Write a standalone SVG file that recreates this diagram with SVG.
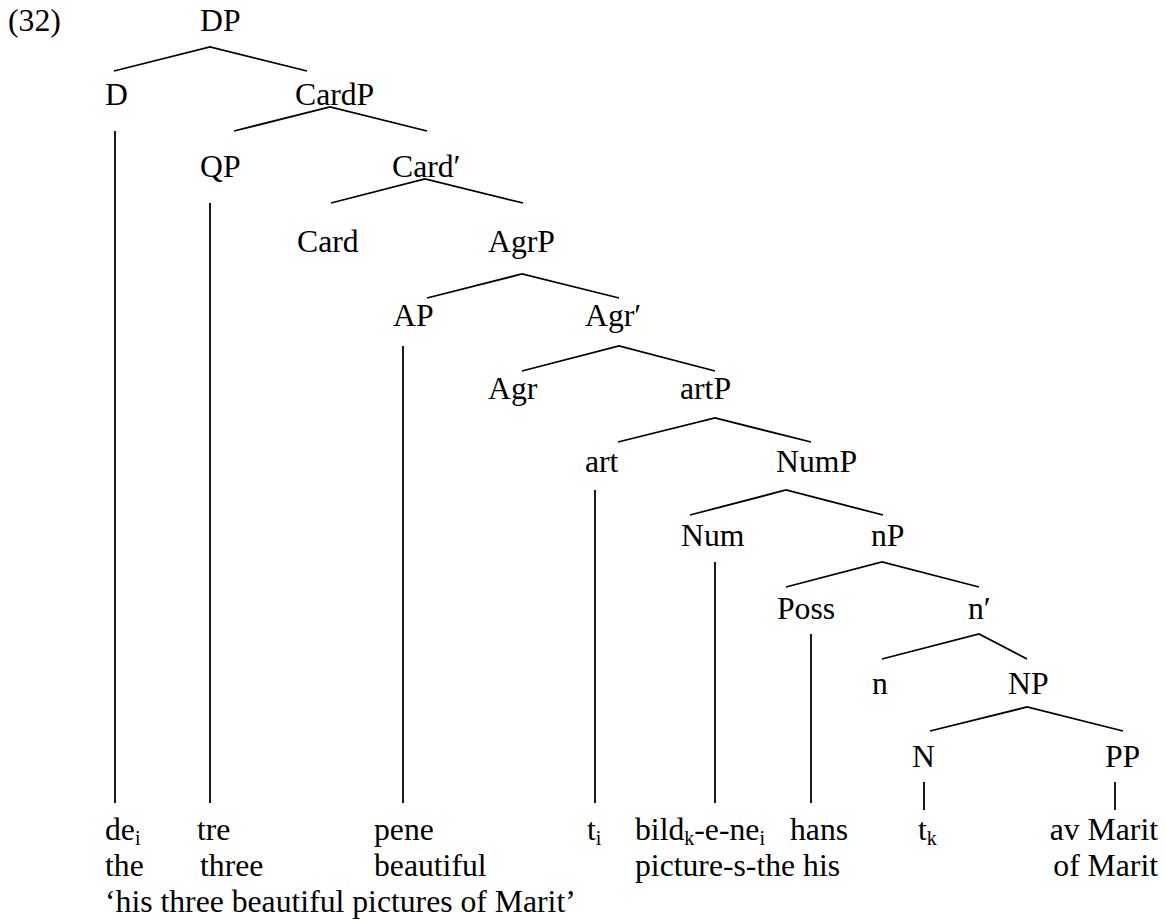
<svg xmlns="http://www.w3.org/2000/svg" width="1166" height="921" viewBox="0 0 1166 921" font-family="'Liberation Serif', 'Times New Roman', serif">
<style>
text{font-family:'Liberation Serif','Times New Roman',serif;font-size:31.7px;fill:#000}
.e{text-anchor:end}
.sub{font-size:20px}
.c line,.c polyline{stroke:#000;stroke-width:1.8;fill:none}
</style>
<rect width="1166" height="921" fill="#fff"/>
<text x="8" y="31">(32)</text>
<g class="c" id="connectors">
<polyline points="114,71 210,47 307,71"/>
<polyline points="234,131 330,107 427,131"/>
<polyline points="331,203 425,179 523,203"/>
<polyline points="427,298 522,274 619,298"/>
<polyline points="522,371 619,346 715,371"/>
<polyline points="618,442 715,418 811,442"/>
<polyline points="690,515 786,490 883,515"/>
<polyline points="786,587 882,562 979,587"/>
<polyline points="882,659 979,634 1027,659"/>
<polyline points="930,731 1027,707 1123,731"/>
<line x1="115" y1="131" x2="115" y2="803"/>
<line x1="210" y1="203" x2="210" y2="803"/>
<line x1="403" y1="346" x2="403" y2="803"/>
<line x1="595" y1="490" x2="595" y2="803"/>
<line x1="715" y1="562" x2="715" y2="803"/>
<line x1="811" y1="634" x2="811" y2="803"/>
<line x1="924" y1="782" x2="924" y2="810"/>
<line x1="1115" y1="782" x2="1115" y2="810"/>
</g>
<g id="DP"><text x="200" y="31">DP</text></g>
<g id="D"><text x="105" y="105">D</text></g>
<g id="CardP"><text x="295" y="105">CardP</text></g>
<g id="QP"><text x="200" y="177">QP</text></g>
<g id="Cardbar"><text x="392" y="177">Card′</text></g>
<g id="Card"><text x="297" y="252">Card</text></g>
<g id="AgrP"><text x="488" y="252">AgrP</text></g>
<g id="AP"><text x="393" y="326">AP</text></g>
<g id="Agrbar"><text x="585" y="326">Agr′</text></g>
<g id="Agr"><text x="488" y="399">Agr</text></g>
<g id="artP"><text x="680" y="399">artP</text></g>
<g id="art"><text x="585" y="472">art</text></g>
<g id="NumP"><text x="776" y="472">NumP</text></g>
<g id="Num"><text x="681" y="546">Num</text></g>
<g id="nP"><text x="871" y="546">nP</text></g>
<g id="Poss"><text x="777" y="619">Poss</text></g>
<g id="nbar"><text x="968" y="619">n′</text></g>
<g id="n"><text x="872" y="694">n</text></g>
<g id="NP"><text x="1008" y="694">NP</text></g>
<g id="N"><text x="912" y="767">N</text></g>
<g id="PP"><text x="1105" y="767">PP</text></g>
<g id="leaves">
<text x="105" y="840">de<tspan class="sub" dy="5">i</tspan></text>
<text x="197" y="840">tre</text>
<text x="374" y="840">pene</text>
<text x="587" y="840">t<tspan class="sub" dy="5">i</tspan></text>
<text x="635" y="840">bild<tspan class="sub" dy="5">k</tspan><tspan dy="-5">-e-ne</tspan><tspan class="sub" dy="5">i</tspan></text>
<text x="790" y="840">hans</text>
<text x="918" y="840">t<tspan class="sub" dy="5">k</tspan></text>
<text class="e" x="1158" y="840">av Marit</text>
<text x="105" y="876">the</text>
<text x="200" y="876">three</text>
<text x="374" y="876">beautiful</text>
<text x="635" y="876">picture-s-the his</text>
<text class="e" x="1158" y="876">of Marit</text>
<text x="105" y="912">‘his three beautiful pictures of Marit’</text>
</g>
</svg>
